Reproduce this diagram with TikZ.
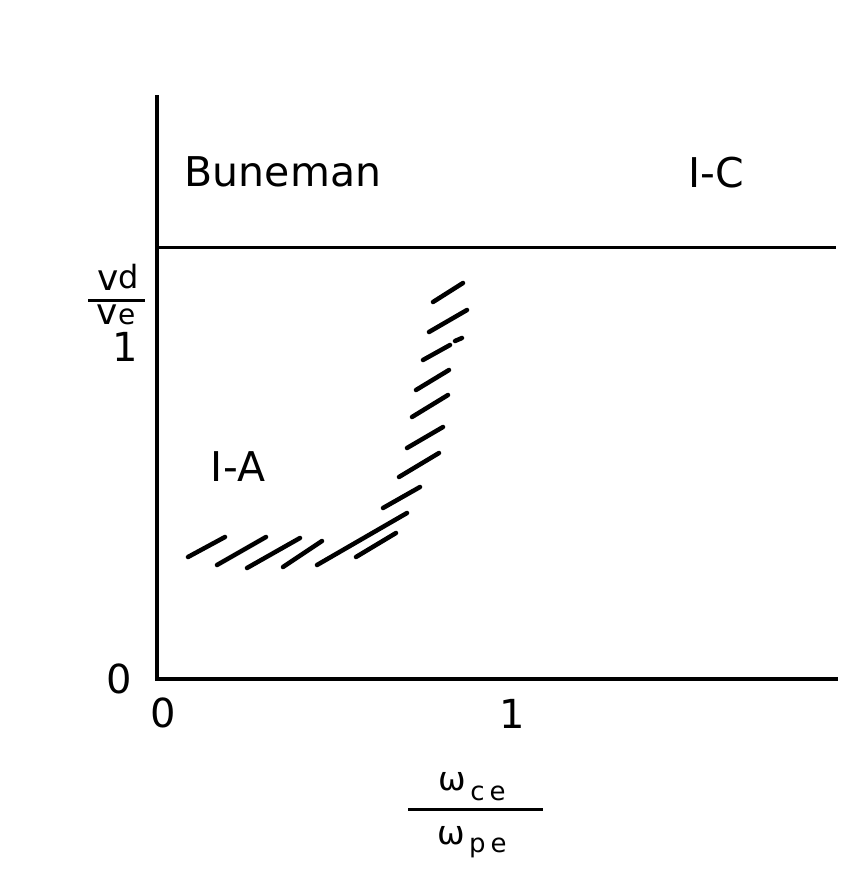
\documentclass[tikz,border=0pt]{standalone}
\usepackage{fontspec}
\setmainfont{DejaVu Sans}
\usetikzlibrary{positioning}

\begin{document}
\begin{tikzpicture}[
  x=1pt, y=-1pt,
  axis/.style={line width=4.5pt, line join=miter},
  bound/.style={line width=3pt},
  hatch/.style={line width=4.5pt, line cap=round},
  lbl/.style={font=\fontsize{41}{41}\selectfont, inner sep=0pt},
  tick/.style={font=\fontsize{40}{40}\selectfont, inner sep=0pt},
  frac/.style={font=\fontsize{36}{36}\selectfont, inner sep=0pt},
]
\useasboundingbox (0,0) rectangle (841,875);

% --- Axes ---
\coordinate (origin) at (157,679);
\coordinate (ytop) at (157,95);
\coordinate (xend) at (838,679);
\draw[axis] (ytop) -- (origin) -- (xend);

% --- Boundary Buneman / I-C ---
\coordinate (bndL) at (157,247);
\coordinate (bndR) at (836,247);
\draw[bound] (bndL) -- (bndR);

% --- Region labels ---
\node[lbl] (bun) at (283,172) {Buneman};
\node[lbl] (ic) at (716,173) {I-C};
\node[lbl] (ia) at (238,467) {I-A};

% --- Tick labels ---
\node[tick] (y0) at (119,679) {0};
\node[tick] (y1) at (125,347) {1};
\node[tick] (x0) at (163,713) {0};
\node[tick] (x1) at (512,714) {1};

% --- Axis labels ---
\node[frac] (vd) at (118,277) {v\raisebox{0.05em}{\fontsize{32}{32}\selectfont d}};
\node[frac] (ve) at (116,315) {v\raisebox{0em}{\fontsize{28}{28}\selectfont e}};
\coordinate (ybarL) at (88,300);
\coordinate (ybarR) at (145,300);
\draw[bound] (ybarL) -- (ybarR);

\node[frac] (wce) at (472,787) {\fontsize{33}{33}\selectfont ω\raisebox{-0.3em}{\fontsize{26}{26}\selectfont\,c\hspace{5pt}e}};
\node[frac] (wpe) at (472,842) {\fontsize{33}{33}\selectfont ω\raisebox{-0.25em}{\fontsize{26}{26}\selectfont\,p\hspace{5pt}e}};
\coordinate (xbarL) at (408,809);
\coordinate (xbarR) at (543,809);
\draw[bound] (xbarL) -- (xbarR);

% --- Hatched transition boundary ---
\foreach \ax/\ay/\bx/\by in {433/302/463/283, 429/332/467/310, 423/360/450/345,
    455/341/462/338, 416/390/449/370, 412/417/448/395, 407/448/443/427,
    399/477/439/453, 383/508/420/487, 317/565/407/513, 356/557/396/533,
    283/567/322/541, 247/568/300/538, 217/565/266/537, 188/557/225/537}
  \draw[hatch] (\ax,\ay) -- (\bx,\by);

\end{tikzpicture}
\end{document}
